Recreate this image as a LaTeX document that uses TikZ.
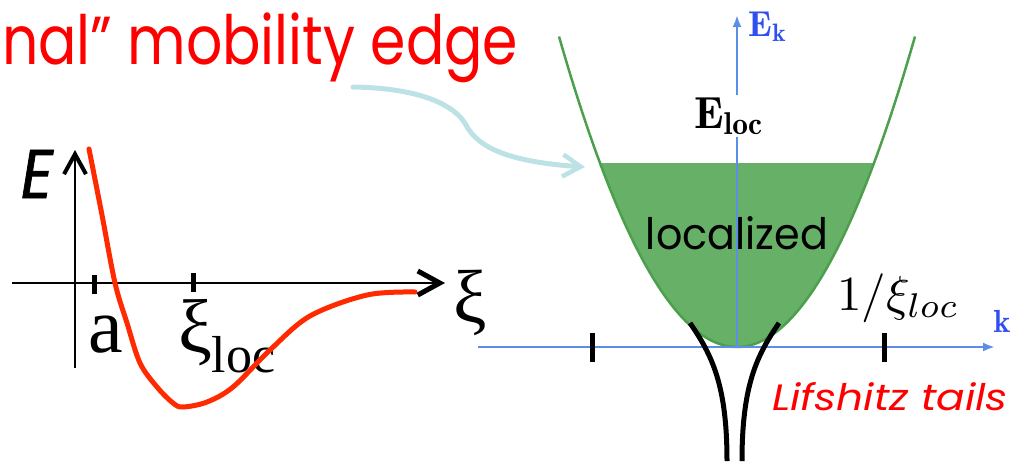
\documentclass[tikz,border=0pt]{standalone}
\usepackage{fontspec}
\usepackage{graphicx}
\usetikzlibrary{arrows.meta}
\newfontfamily\comic{Poppins}
\newfontfamily\comicE{Poppins}[FakeBold=1.2]
\newfontfamily\timesf{Liberation Serif}
\definecolor{titlered}{HTML}{FF0000}
\definecolor{curvered}{HTML}{FF2A00}
\definecolor{axisblue}{HTML}{5B8EE6}
\definecolor{labelblue}{HTML}{2F4FF0}
\definecolor{greenfill}{HTML}{67B067}
\definecolor{greenline}{HTML}{4C9F4C}
\definecolor{hintblue}{HTML}{BDE2E6}
\tikzset{
  blackaxis/.style={line width=2pt, black},
  blueaxis/.style={line width=2.5pt, axisblue, -{Latex[length=12pt,width=9pt]}},
  tickmark/.style={line width=5pt, black},
  tailcurve/.style={line width=5pt, black},
  lbl/.style={inner sep=0pt, outer sep=0pt},
}
\begin{document}
\begin{tikzpicture}[x=1pt,y=-1pt]
\useasboundingbox (0,0) rectangle (1026,461);

% ---- title ----
\node[lbl, anchor=north west, text=titlered] (title) at (2,13)
  {\resizebox*{516pt}{70pt}{\comic nal” mobility edge}};

% ---- left diagram ----
\coordinate (vbot) at (75,368);
\coordinate (vtop) at (75,150);
\coordinate (hleft) at (12,283);
\coordinate (hright) at (445,283);
\draw[blackaxis, -{Straight Barb[length=20pt,width=22pt,line width=4pt]}] (vbot) -- (vtop);
\draw[blackaxis, -{Straight Barb[length=22pt,width=24pt,line width=5pt]}] (hleft) -- (hright);
\draw[tickmark] (94,275) -- (94,294);
\draw[tickmark] (193,273) -- (193,292);

\node[lbl] (Elab) at (37,174) {\resizebox{32pt}{48pt}{\comicE\itshape E}};
\node[lbl, anchor=base west] (alab) at (88,352) {\timesf\fontsize{78}{78}\selectfont a};
\node[lbl, anchor=base west] (xiloc) at (178,352)
  {\timesf\fontsize{76}{76}\selectfont ξ\raisebox{-20pt}{\fontsize{52}{52}\selectfont loc}};
\node[lbl, anchor=base west] (xilab) at (453,322) {\timesf\fontsize{75}{75}\selectfont ξ};

\draw[curvered, line width=5pt, line cap=round, line join=round]
  plot[smooth, tension=0.55] coordinates {
   (89,149) (102,215) (115,283) (127,323) (140,363) (157,387) (173,403) (183,407)
   (207,402) (233,387) (270,350) (310,316) (367,295) (415,292)};

% ---- right diagram ----
\fill[greenfill] plot[domain=-137:137, samples=80] ({737+\x},{347-(0.099*\x)^2}) -- cycle;
\draw[greenline, line width=2.5pt] plot[domain=-178:178, samples=120] ({737+\x},{347-(0.099*\x)^2});

\coordinate (korig) at (737,347);
\coordinate (kleft) at (478,347);
\coordinate (kright) at (995,347);
\coordinate (etop) at (737,15);
\draw[blueaxis] (kleft) -- (kright);
\draw[blueaxis] (korig) -- (etop);

\node[lbl, text=labelblue] (Ek) at (768,27) {\scalebox{3.6}{$\mathbf{E}_{\mathbf{k}}$}};
\node[lbl, text=labelblue] (klab) at (1002,321) {\scalebox{3.2}{$\mathbf{k}$}};

\node[lbl, anchor=base west, fill=white, inner sep=2pt] (Eloc) at (692,128)
  {\scalebox{4.5}{$\mathbf{E}_{\mathbf{loc}}$}};
\node[lbl] (loc) at (737,233) {\resizebox{182pt}{33pt}{\comic localized}};
\node[lbl, anchor=base west] (invxi) at (837,310)
  {\scalebox{4.9}{$1/\xi_{loc}$}};

\draw[tickmark] (592,333) -- (592,362);
\draw[tickmark] (884,333) -- (884,362);

\draw[tailcurve] (690,323) .. controls (712,355) and (727,385) .. (727,461);
\draw[tailcurve] (779,323) .. controls (757,355) and (742,385) .. (742,461);

\node[lbl, anchor=north west, text=titlered] (lif) at (772,382)
  {\resizebox{236pt}{28pt}{\comic\itshape Lifshitz tails}};

% ---- hint arrow ----
\coordinate (hstart) at (353,87);
\coordinate (hmid) at (466,125);
\coordinate (hend) at (585,167);
\draw[hintblue, line width=5pt, line cap=round, -{Straight Barb[length=18pt,width=22pt,line width=4.5pt]}]
  (hstart) .. controls (420,88) and (455,105) .. (hmid)
  .. controls (478,148) and (510,162) .. (hend);
\end{tikzpicture}
\end{document}
